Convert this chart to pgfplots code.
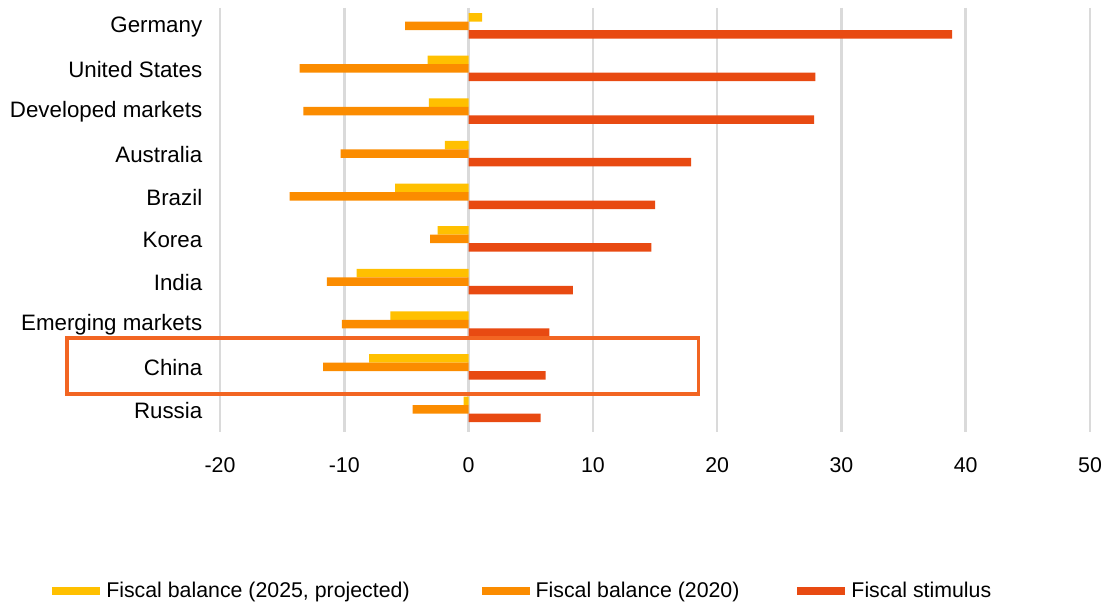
\documentclass[border=0pt]{standalone}
\usepackage{pgfplots}
\pgfplotsset{compat=1.18}
\usepackage{fontspec}
\setmainfont{Liberation Sans}
\definecolor{cyel}{HTML}{FFC000}
\definecolor{corg}{HTML}{FB8C00}
\definecolor{cred}{HTML}{E84A12}
\definecolor{cbox}{HTML}{F26522}
\definecolor{cgrid}{HTML}{DADADA}
\pgfplotsset{mylegend/.style={legend image code/.code={\fill[##1] (0bp,-4bp) rectangle (48bp,4bp);}}}
\begin{document}
\begin{tikzpicture}[x=1bp,y=1bp]
\useasboundingbox (0,0) rectangle (1108,603);
\begin{axis}[
 at={(220bp,171bp)}, anchor=south west,
 scale only axis, width=870bp, height=424bp,
 xmin=-20, xmax=50, ymin=-0.42, ymax=9.53, y dir=reverse,
 xbar, bar width=8.5bp,
 axis line style={draw=none}, tick style={draw=none},
 xtick={-20,-10,...,50}, ytick={0,...,9},
 yticklabels={Germany, United States, Developed markets, Australia, Brazil, Korea, India, Emerging markets, China, Russia},
 xmajorgrids, grid style={cgrid, line width=2.5bp},
 font=\fontsize{21.4}{24}\selectfont,
 /pgf/number format/assume math mode=true,
 x tick label style={anchor=north, yshift=-22bp},
 y tick label style={anchor=east, xshift=-10bp, yshift=-1bp, font=\fontsize{22.4}{25}\selectfont},
 clip=false,
 legend columns=3,
 legend cell align=left,
 legend style={at={(axis description cs:-0.193,-0.375)}, anchor=west, draw=none, fill=none, inner sep=0pt,
   font=\fontsize{21.4}{24}\selectfont,
   /tikz/every odd column/.append style={column sep=4bp},
   /tikz/column 2/.style={column sep=70bp},
   /tikz/column 4/.style={column sep=56bp}},
]
\addplot[mylegend, fill=cyel, draw=none, bar shift=8.5bp] coordinates {(1.1,0) (-3.3,1) (-3.2,2) (-1.9,3) (-5.9,4) (-2.5,5) (-9.0,6) (-6.3,7) (-8.0,8) (-0.4,9)};
\addplot[mylegend, fill=corg, draw=none, bar shift=0bp] coordinates {(-5.1,0) (-13.6,1) (-13.3,2) (-10.3,3) (-14.4,4) (-3.1,5) (-11.4,6) (-10.2,7) (-11.7,8) (-4.5,9)};
\addplot[mylegend, fill=cred, draw=none, bar shift=-8.5bp] coordinates {(38.9,0) (27.9,1) (27.8,2) (17.9,3) (15.0,4) (14.7,5) (8.4,6) (6.5,7) (6.2,8) (5.8,9)};
\legend{Fiscal balance (2025{,} projected), Fiscal balance (2020), Fiscal stimulus}
\draw[cbox, line width=3.5bp] (axis cs:-32.3,7.32) rectangle (axis cs:18.5,8.64);
\end{axis}
\end{tikzpicture}
\end{document}
